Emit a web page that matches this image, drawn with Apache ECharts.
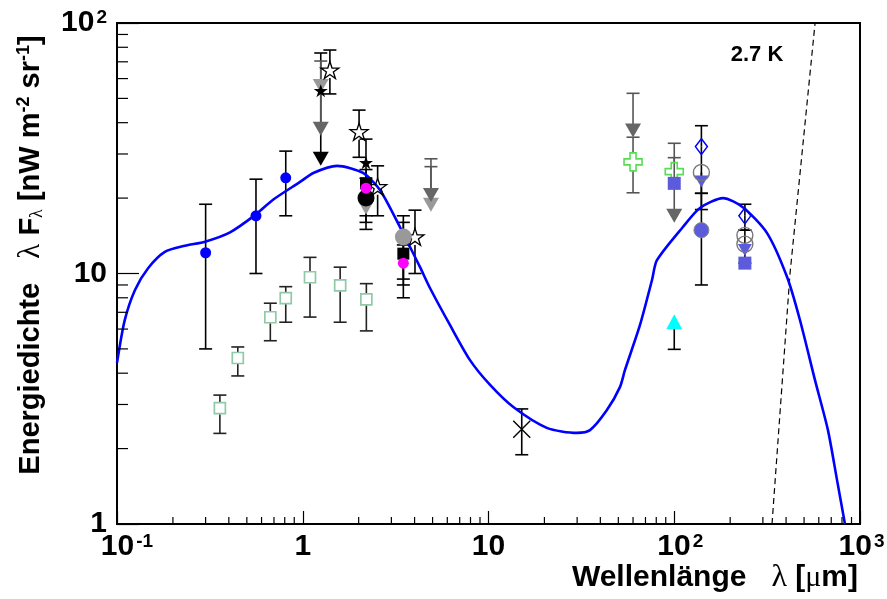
<!DOCTYPE html>
<html>
<head>
<meta charset="utf-8">
<script src="https://cdn.jsdelivr.net/npm/echarts@6/dist/echarts.min.js"></script>
<style>
html, body { margin: 0; padding: 0; background: #fff; }
#chart { width: 887px; height: 599px; }
</style>
</head>
<body>
<div id="chart"></div>
<script>
// axis tick labels (decade exponent -> label)
var xTickExp = [-1, 0, 1, 2, 3];
var xTickText = ['{bp1|10}{s|-1}', '{b|1}', '{b|10}', '{bp2|10}{s|2}', '{bp3|10}{s|3}'];
var yTickExp = [0, 1, 2];
var yTickText = ['{b|1}', '{b|10}', '{b|10}{s|2}'];

// minor tick values
var xMinor = [0.2,0.3,0.4,0.5,0.6,0.7,0.8,0.9, 2,3,4,5,6,7,8,9, 20,30,40,50,60,70,80,90, 200,300,400,500,600,700,800,900];
var yMinor = [2,3,4,5,6,7,8,9, 20,30,40,50,60,70,80,90];

// model curve (blue)
var model = [[0.1,4.4],[0.11,6.5],[0.125,8.6],[0.147,10.5],[0.181,12.2],[0.232,12.9],[0.298,13.4],
    [0.406,14.6],[0.553,17.1],[0.692,19.7],[0.967,23.2],[1.14,25.2],[1.53,26.9],[2.11,25.2],
    [2.61,21.5],[3.34,15.3],[4.28,10.6],[4.84,8.75],[6.2,6.23],[7.95,4.51],[10.2,3.59],[13.6,2.93],
    [20.6,2.42],[29.9,2.31],[35.2,2.37],[43.4,2.85],[51,3.52],[54.3,4.12],[65.4,6.23],[75.9,9.42],
    [80.7,11.3],[111,15.3],[138,18.3],[183,20.0],[234,18.4],[316,14.5],[405,9.68],[475,6.52],
    [572,3.76],[672,2.37],[752,1.5],[830,1.0]];
// 2.7 K black body (dashed)
var cmb = [[336,1],[420,10],[573,100]];

// measurements: [lambda, value] and error bars: [lambda, value, low, high]
var blueDots = [[0.30,12.1],[0.56,17.0],[0.81,24.1]];
var blueDotsErr = [[0.30,12.1,5.0,18.9],[0.56,17.0,10.0,23.8],[0.81,24.1,17.0,30.8]];
var tealSquares = [[0.358,2.90],[0.447,4.60],[0.669,6.69],[0.81,7.98],[1.094,9.66],[1.59,8.97],[2.20,7.89]];
var tealSquaresErr = [[0.358,2.90,2.30,3.27],[0.447,4.60,3.90,5.09],[0.669,6.69,5.39,7.61],[0.81,7.98,6.39,8.86],
    [1.094,9.66,6.70,11.6],[1.59,8.97,6.39,10.6],[2.20,7.89,5.90,9.11]];
var openStars = [[1.40,64.9],[2.01,36.8],[2.53,22.2],[4.02,14.0]];
var openStarsErr = [[1.40,64.9,52.1,78],[2.01,36.8,29.1,44.9],[2.53,22.2,17.0,26.9],[4.02,14.0,10.0,17.9]];
var blackStars = [[1.25,53.7],[2.19,27.7]];
var blackStarsErr = [[2.19,27.7,17.0,34.4]];
var blackTri = [[1.25,28.7]];
var blackTriErr = [[1.25,28.7,28.7,75.9]];
var darkTri = [[1.25,37.8],[4.9,20.6],[60,37.2],[100,17.0]];
var darkTriErr = [[1.25,37.8,37.8,70.5],[4.9,20.6,20.6,28.7],[60,37.2,37.2,52.4],[100,17.0,17.0,33.1]];
var lightTri = [[1.25,56],[2.19,18.3],[4.9,18.8]];
var lightTriErr = [[4.9,18.8,18.8,26.7]];
var blackSquares = [[2.19,22.9],[3.48,12.0]];
var blackSquaresErr = [[2.19,22.9,16.0,26.0],[3.48,12.0,8.0,16.0]];
var magentaDots = [[2.19,21.9],[3.48,11.0]];
var magentaDotsErr = [[2.19,21.9,15.0,24.0],[3.48,11.0,9.5,13.0]];
var blackCircle = [[2.19,20.0]];
var grayDots = [[3.48,14.0]];
var grayDotsErr = [[3.48,14.0,9.0,17.0]];
var xMarks = [[15.1,2.39]];
var xMarksErr = [[15.1,2.39,1.89,2.88]];
var greenCross = [[60,27.9],[100,25.5]];
var greenCrossErr = [[60,27.9,21.0,35.0],[100,25.5,25.5,29.0]];
var purpleSquares = [[100,22.9],[240,11.0]];
var purpleTri = [[140,23.3],[240,12.4]];
var purpleDots = [[140,14.9]];
var purpleDotsErr = [[140,14.9,9.0,20.9]];
var openCircles = [[140,25.3],[240,14.2],[240,13.1]];
var openCirclesErr = [[140,25.3,18.0,24.9],[240,13.1,11.0,14.9]];
var diamonds = [[140,32.1],[240,17.0]];
var diamondsErr = [[140,32.1,20.9,38.9],[240,17.0,14.9,18.9]];
var cyanTri = [[100,6.42]];
var cyanTriErr = [[100,6.42,4.98,6.42]];

var FONT = 'Liberation Sans, Arial, sans-serif';
var SERIF = 'Liberation Serif, serif';
var STAR = 'path://M50,0 L61.2,34.5 L97.6,34.5 L68.2,55.9 L79.4,90.5 L50,69.1 L20.6,90.5 L31.8,55.9 L2.4,34.5 L38.8,34.5 Z';
var CROSS = 'path://M-1,-3 L1,-3 L1,-1 L3,-1 L3,1 L1,1 L1,3 L-1,3 L-1,1 L-3,1 L-3,-1 L-1,-1 Z';
var XMARK = 'path://M0,0 L10,10 M10,0 L0,10';

function errBars(data, color, gap) {
    return {
        type: 'custom', data: data, clip: true, z: 2, silent: true,
        renderItem: function (params, api) {
            var x = api.value(0), y = api.value(1), lo = api.value(2), hi = api.value(3);
            var pc = api.coord([x, y]), pl = api.coord([x, lo]), ph = api.coord([x, hi]);
            var st = { stroke: color, lineWidth: 1.6 };
            var kids = [];
            var cw = 6.5;
            if (ph[1] < pc[1] - gap) kids.push({ type: 'line', shape: { x1: pc[0], y1: pc[1] - gap, x2: ph[0], y2: ph[1] }, style: st });
            if (pl[1] > pc[1] + gap) kids.push({ type: 'line', shape: { x1: pc[0], y1: pc[1] + gap, x2: pl[0], y2: pl[1] }, style: st });
            if (hi > y) kids.push({ type: 'line', shape: { x1: ph[0] - cw, y1: ph[1], x2: ph[0] + cw, y2: ph[1] }, style: st });
            if (lo < y) kids.push({ type: 'line', shape: { x1: pl[0] - cw, y1: pl[1], x2: pl[0] + cw, y2: pl[1] }, style: st });
            return { type: 'group', children: kids };
        }
    };
}

function points(data, symbol, size, style, rotate) {
    style.opacity = 1;
    return {
        type: 'scatter', data: data, symbol: symbol, symbolSize: size, symbolRotate: rotate || 0,
        symbolKeepAspect: false, itemStyle: style, z: 4, silent: true
    };
}

var chart = echarts.init(document.getElementById('chart'));
var option = {
    animation: false,
    backgroundColor: '#fff',
    grid: {
        left: 117, right: 27, top: 23, bottom: 75, show: true, borderColor: '#000', borderWidth: 2,
        outerBoundsMode: 'none', containLabel: false
    },
    xAxis: {
        type: 'log', logBase: 10, min: 0.1, max: 1000,
        axisLine: { lineStyle: { color: '#000', width: 2 } },
        axisTick: { inside: true, length: 13, lineStyle: { color: '#000', width: 1.2 } },
        splitLine: { show: false },
        axisLabel: {
            margin: 8, color: '#000', hideOverlap: false,
            formatter: function (v) { return xTickText[xTickExp.indexOf(Math.round(Math.log10(v)))]; },
            rich: {
                b: { fontSize: 30, fontWeight: 'bold', fontFamily: FONT },
                bp1: { fontSize: 30, fontWeight: 'bold', fontFamily: FONT, padding: [0, 0, 0, 20] },
                bp2: { fontSize: 30, fontWeight: 'bold', fontFamily: FONT, padding: [0, 0, 0, 12] },
                bp3: { fontSize: 30, fontWeight: 'bold', fontFamily: FONT, padding: [0, 0, 0, 3] },
                s: { fontSize: 19, fontWeight: 'bold', fontFamily: FONT, verticalAlign: 'top', padding: [0, 0, 0, 2] }
            }
        }
    },
    yAxis: {
        type: 'log', logBase: 10, min: 1, max: 100,
        axisLine: { lineStyle: { color: '#000', width: 2 } },
        axisTick: { inside: true, length: 22, lineStyle: { color: '#000', width: 1.2 } },
        splitLine: { show: false },
        axisLabel: {
            margin: 10, color: '#000',
            formatter: function (v) { return yTickText[yTickExp.indexOf(Math.round(Math.log10(v)))]; },
            rich: {
                b: { fontSize: 30, fontWeight: 'bold', fontFamily: FONT },
                s: { fontSize: 19, fontWeight: 'bold', fontFamily: FONT, verticalAlign: 'top', padding: [0, 0, 0, 2] }
            }
        }
    },
    graphic: [
        {
            type: 'text', x: 858, y: 578, z: 10,
            style: {
                text: 'Wellenlänge   {l|λ} [{m|μ}m]', align: 'right', verticalAlign: 'middle',
                fontSize: 30, fontWeight: 'bold', fontFamily: FONT, fill: '#000',
                rich: {
                    l: { fontSize: 32, fontFamily: SERIF, fill: '#000' },
                    m: { fontSize: 30, fontFamily: SERIF, fill: '#000' }
                }
            }
        },
        {
            type: 'text', x: 31, y: 255, rotation: Math.PI / 2, z: 10,
            style: {
                text: 'Energiedichte   {l|λ} F{sub|λ} [nW m{sup|-2} sr{sup|-1}]', align: 'center', verticalAlign: 'middle',
                fontSize: 29, fontWeight: 'bold', fontFamily: FONT, fill: '#000',
                rich: {
                    l: { fontSize: 31, fontFamily: SERIF, fill: '#000' },
                    sub: { fontSize: 18, fontFamily: SERIF, fill: '#000', verticalAlign: 'bottom' },
                    sup: { fontSize: 18, fontWeight: 'bold', fontFamily: FONT, fill: '#000', verticalAlign: 'top' }
                }
            }
        },
        {
            type: 'text', x: 757, y: 55, z: 10,
            style: { text: '2.7 K', align: 'center', verticalAlign: 'middle', fontSize: 22, fontWeight: 'bold', fontFamily: FONT, fill: '#000' }
        }
    ],
    series: [
        {
            type: 'custom', clip: false, silent: true, z: 5,
            data: xMinor.map(function (v) { return [v, 1]; }),
            renderItem: function (params, api) {
                var p = api.coord([api.value(0), 1]);
                return { type: 'line', shape: { x1: p[0], y1: p[1], x2: p[0], y2: p[1] - 7 }, style: { stroke: '#000', lineWidth: 1.2 } };
            }
        },
        {
            type: 'custom', clip: false, silent: true, z: 5,
            data: yMinor.map(function (v) { return [0.1, v]; }),
            renderItem: function (params, api) {
                var p = api.coord([0.1, api.value(1)]);
                return { type: 'line', shape: { x1: p[0], y1: p[1], x2: p[0] + 11, y2: p[1] }, style: { stroke: '#000', lineWidth: 1.2 } };
            }
        },
        {
            type: 'line', data: cmb, showSymbol: false, silent: true, z: 3,
            lineStyle: { color: '#000', width: 1.2, type: [6, 4] }
        },
        {
            type: 'line', data: model, showSymbol: false, smooth: 0.25, silent: true, z: 3,
            lineStyle: { color: '#0000ff', width: 2.6 }
        },
        errBars(blueDotsErr, '#000', 0),
        errBars(tealSquaresErr, '#222', 6),
        errBars(openStarsErr, '#000', 8),
        errBars(blackStarsErr, '#000', 0),
        errBars(blackTriErr, '#000', 0),
        errBars(darkTriErr, '#555', 0),
        errBars(lightTriErr, '#555', 0),
        errBars(blackSquaresErr, '#000', 0),
        errBars(magentaDotsErr, '#000', 0),
        errBars(grayDotsErr, '#000', 0),
        errBars(xMarksErr, '#000', 0),
        errBars(greenCrossErr, '#555', 9),
        errBars(purpleDotsErr, '#000', 0),
        errBars(openCirclesErr, '#000', 0),
        errBars(diamondsErr, '#000', 0),
        errBars(cyanTriErr, '#000', 0),
        points(lightTri, 'triangle', [16, 14], { color: '#999' }, 180),
        points(blueDots, 'circle', 11, { color: '#0000ff' }),
        points(tealSquares, 'rect', 11, { color: 'rgba(0,0,0,0)', borderColor: '#8fc9a8', borderWidth: 1.7 }),
        points(openStars, STAR, [18, 17], { color: 'rgba(0,0,0,0)', borderColor: '#000', borderWidth: 1.3 }),
        points(darkTri, 'triangle', [16, 14], { color: '#666' }, 180),
        points(blackTri, 'triangle', [16, 14], { color: '#000' }, 180),
        points(blackSquares, 'rect', 12, { color: '#000' }),
        points(blackCircle, 'circle', 17, { color: '#000' }),
        points(magentaDots, 'circle', 11, { color: '#ff00ff' }),
        points(blackStars, STAR, [14, 13], { color: '#000' }),
        points(grayDots, 'circle', 17, { color: '#999' }),
        points(xMarks, XMARK, 17, { color: 'rgba(0,0,0,0)', borderColor: '#000', borderWidth: 1.4 }),
        points(greenCross, CROSS, 18, { color: 'rgba(0,0,0,0)', borderColor: '#55dd55', borderWidth: 1.6 }),
        points(purpleSquares, 'rect', 13, { color: '#5b5bdc' }),
        points(purpleTri, 'triangle', [14, 12], { color: '#5b5bdc' }, 180),
        points(purpleDots, 'circle', 15, { color: '#5b5bdc', borderColor: '#888', borderWidth: 1 }),
        points(openCircles, 'circle', 16, { color: 'rgba(0,0,0,0)', borderColor: '#777', borderWidth: 1.4 }),
        points(diamonds, 'diamond', [12, 16], { color: 'rgba(0,0,0,0)', borderColor: '#0000ff', borderWidth: 1.5 }),
        points(cyanTri, 'triangle', [16, 15], { color: '#00ffff' })
    ]
};
chart.setOption(option);
</script>
</body>
</html>
